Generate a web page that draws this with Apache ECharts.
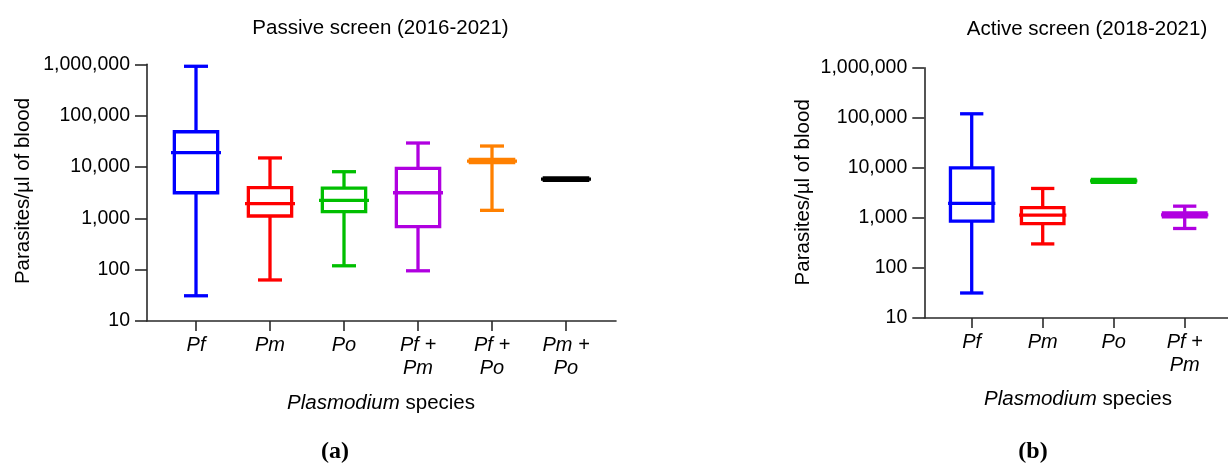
<!DOCTYPE html>
<html>
<head>
<meta charset="utf-8">
<script src="https://cdn.jsdelivr.net/npm/echarts@6/dist/echarts.min.js"></script>
<style>
html,body{margin:0;padding:0;background:#fff;}
#chart{width:1228px;height:467px;}
</style>
</head>
<body>
<div id="chart"></div>
<script>
// ---------- data ----------
const passiveCategories = ['Pf', 'Pm', 'Po', 'Pf +\nPm', 'Pf +\nPo', 'Pm +\nPo'];
const passiveMin    = [31,    63,    119,  95,    1430,  5500];
const passiveQ1     = [3150,  1110,  1345, 686,   12200, 5500];
const passiveMedian = [19000, 1925,  2240, 3150,  13000, 5800];
const passiveQ3     = [48600, 3950,  3890, 9420,  14000, 6100];
const passiveMax    = [915000,15000, 8090, 29300, 25600, 6100];
const passiveColors = ['#0000FF', '#FF0000', '#00BF00', '#B000E0', '#FF8000', '#000000'];

const activeCategories = ['Pf', 'Pm', 'Po', 'Pf +\nPm'];
const activeMin    = [31.6,  302,  5100, 614];
const activeQ1     = [859,   771,  5100, 1047];
const activeMedian = [1940,  1130, 5500, 1150];
const activeQ3     = [10000, 1610, 5900, 1259];
const activeMax    = [120000,3870, 5900, 1715];
const activeColors = ['#0000FF', '#FF0000', '#00BF00', '#B000E0'];

const yTicks = [10, 100, 1000, 10000, 100000, 1000000];

// ---------- helpers ----------
function rows(mn, q1, md, q3, mx) {
  return mn.map((v, i) => [i, v, q1[i], md[i], q3[i], mx[i]]);
}
const FONT = '"Liberation Sans", Arial, sans-serif';
const AXIS_COLOR = '#2a2a2a';
const LW = 3.3;

function makeRender(colors, boxW, capW, medW) {
  return function (params, api) {
    const i = api.value(0);
    const mn = api.value(1), q1 = api.value(2), md = api.value(3), q3 = api.value(4), mx = api.value(5);
    const x = api.coord([i, md])[0];
    const yMin = api.coord([i, mn])[1];
    const yQ1 = api.coord([i, q1])[1];
    const yMd = api.coord([i, md])[1];
    const yQ3 = api.coord([i, q3])[1];
    const yMax = api.coord([i, mx])[1];
    const c = colors[i];
    const st = { stroke: c, lineWidth: LW, fill: null };
    const children = [];
    if (mn < q1) {
      children.push({ type: 'line', shape: { x1: x, y1: yQ1, x2: x, y2: yMin }, style: st });
      children.push({ type: 'line', shape: { x1: x - capW / 2, y1: yMin, x2: x + capW / 2, y2: yMin }, style: st });
    }
    if (mx > q3) {
      children.push({ type: 'line', shape: { x1: x, y1: yQ3, x2: x, y2: yMax }, style: st });
      children.push({ type: 'line', shape: { x1: x - capW / 2, y1: yMax, x2: x + capW / 2, y2: yMax }, style: st });
    }
    children.push({ type: 'rect', shape: { x: x - boxW / 2, y: yQ3, width: boxW, height: yQ1 - yQ3 },
      style: { stroke: c, lineWidth: LW, fill: '#ffffff' } });
    children.push({ type: 'line', shape: { x1: x - medW / 2, y1: yMd, x2: x + medW / 2, y2: yMd }, style: st });
    return { type: 'group', children: children };
  };
}

const yLabelFmt = v => Number(v).toLocaleString('en-US');

// panel layouts (pixels)
const L = { axisLeft: 147, axisRight: 616, catLeft: 159, catWidth: 444, top: 64.3, bottom: 321 };
const R = { axisLeft: 924.3, axisRight: 1228, catLeft: 936.2, catWidth: 284, top: 67.7, bottom: 318 };

function lineGrid(p) { return { left: p.axisLeft, width: p.axisRight - p.axisLeft, top: p.top, height: p.bottom - p.top }; }
function catGrid(p) { return { left: p.catLeft, width: p.catWidth, top: p.top, height: p.bottom - p.top }; }

function visibleY(gridIndex) {
  return {
    type: 'log', logBase: 10, min: yTicks[0], max: yTicks[yTicks.length - 1], gridIndex: gridIndex,
    axisLine: { show: true, lineStyle: { color: AXIS_COLOR, width: 1.6 } },
    axisTick: { show: true, length: 12, lineStyle: { color: AXIS_COLOR, width: 1.6 } },
    axisLabel: { show: true, margin: 17, color: '#000', fontFamily: FONT, fontSize: 19.5, formatter: yLabelFmt },
    splitLine: { show: false }, minorTick: { show: false }
  };
}
function hiddenY(gridIndex) {
  return { type: 'log', logBase: 10, min: yTicks[0], max: yTicks[yTicks.length - 1], gridIndex: gridIndex, show: false };
}
function lineX(gridIndex) {
  return {
    type: 'value', min: 0, max: 1, gridIndex: gridIndex,
    axisLine: { show: true, onZero: false, lineStyle: { color: AXIS_COLOR, width: 1.6 } },
    axisTick: { show: false }, axisLabel: { show: false }, splitLine: { show: false }
  };
}
function catX(gridIndex, cats) {
  return {
    type: 'category', data: cats, gridIndex: gridIndex, boundaryGap: true,
    axisLine: { show: false },
    axisTick: { show: true, alignWithLabel: true, length: 10, lineStyle: { color: AXIS_COLOR, width: 1.6 } },
    axisLabel: { show: true, interval: 0, margin: 13, color: '#000', fontFamily: FONT, fontSize: 20,
      fontStyle: 'italic', lineHeight: 23 },
    splitLine: { show: false }
  };
}

const chart = echarts.init(document.getElementById('chart'), null, { renderer: 'canvas' });

const txt = (text, x, y, extra) => ({
  type: 'text', x: x, y: y, rotation: (extra && extra.rotation) || 0, silent: true,
  style: Object.assign({ text: text, fill: '#000', font: '20.5px ' + FONT, align: 'center', verticalAlign: 'middle' },
    (extra && extra.style) || {})
});
const nameRich = { i: { fontStyle: 'italic', fontFamily: FONT, fontSize: 20.5 }, n: { fontFamily: FONT, fontSize: 20.5 } };

chart.setOption({
  animation: false,
  grid: [lineGrid(L), catGrid(L), lineGrid(R), catGrid(R)],
  xAxis: [lineX(0), catX(1, passiveCategories), lineX(2), catX(3, activeCategories)],
  yAxis: [visibleY(0), hiddenY(1), visibleY(2), hiddenY(3)],
  series: [
    { type: 'custom', xAxisIndex: 1, yAxisIndex: 1, encode: { x: 0, y: [1, 2, 3, 4, 5] },
      renderItem: makeRender(passiveColors, 43.3, 24, 50),
      data: rows(passiveMin, passiveQ1, passiveMedian, passiveQ3, passiveMax) },
    { type: 'custom', xAxisIndex: 3, yAxisIndex: 3, encode: { x: 0, y: [1, 2, 3, 4, 5] },
      renderItem: makeRender(activeColors, 42.5, 23.3, 47.3),
      data: rows(activeMin, activeQ1, activeMedian, activeQ3, activeMax) }
  ],
  graphic: [
    txt('Passive screen (2016-2021)', 380.5, 28),
    txt('Active screen (2018-2021)', 1087, 29),
    txt('Parasites/µl of blood', 23, 191, { rotation: Math.PI / 2 }),
    txt('Parasites/µl of blood', 803, 192.3, { rotation: Math.PI / 2 }),
    { type: 'text', x: 381, y: 403.3, silent: true,
      style: { text: '{i|Plasmodium}{n| species}', rich: nameRich, fill: '#000', align: 'center', verticalAlign: 'middle' } },
    { type: 'text', x: 1078, y: 399, silent: true,
      style: { text: '{i|Plasmodium}{n| species}', rich: nameRich, fill: '#000', align: 'center', verticalAlign: 'middle' } },
    txt('(a)', 335, 452, { style: { font: 'bold 24px "Liberation Serif", "Times New Roman", serif' } }),
    txt('(b)', 1033, 452, { style: { font: 'bold 24px "Liberation Serif", "Times New Roman", serif' } })
  ]
});
</script>
</body>
</html>
